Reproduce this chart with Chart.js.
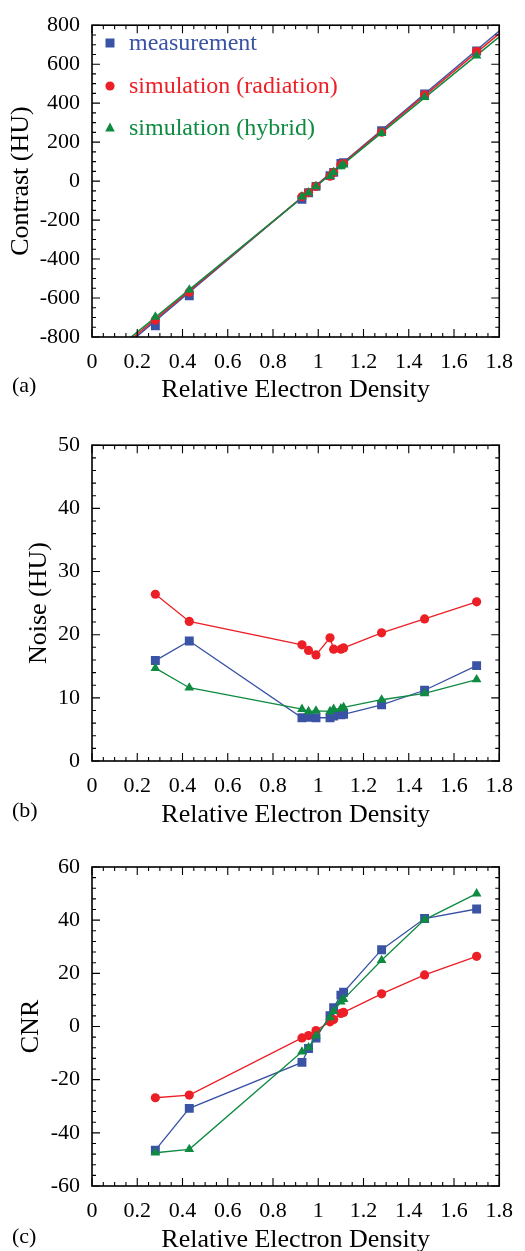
<!DOCTYPE html>
<html>
<head>
<meta charset="utf-8">
<script src="https://cdn.jsdelivr.net/npm/chart.js@4.4.1/dist/chart.umd.min.js"></script>
<style>
  html, body { margin:0; padding:0; background:#fff; overflow:hidden; }
  #wrap { position:relative; width:525px; height:1251px; overflow:hidden; }
  canvas { position:absolute; left:0; }
</style>
</head>
<body>
<div id="wrap">
  <canvas id="ca" width="525" height="440" style="top:0px"></canvas>
  <canvas id="cb" width="525" height="440" style="top:420px"></canvas>
  <canvas id="cc" width="525" height="440" style="top:830px"></canvas>
</div>
<script>
// ---------------- data ----------------
const density = [0.28, 0.43, 0.928, 0.957, 0.99, 1.052, 1.068, 1.10, 1.112, 1.28, 1.47, 1.70];

const contrastMeasurement = [-742, -588, -94, -60, -27, 28, 45, 90, 95, 258, 447, 668];
const contrastRadiation   = [-713, -570, -80, -59, -27, 25, 45, 84, 90, 251, 442, 666];
const contrastHybrid      = [-697, -558, -80, -59, -27, 25, 45, 75, 84, 246, 430, 643];

const fitX                = [0, 1.8];
const fitMeasurement      = [-991, 770];
const fitRadiation        = [-978, 757];
const fitHybrid           = [-964, 740];

const noiseMeasurement = [15.9, 19.0, 6.85, 6.9, 6.85, 6.85, 7.1, 7.3, 7.4, 8.9, 11.2, 15.1];
const noiseRadiation   = [26.4, 22.1, 18.4, 17.5, 16.8, 19.5, 17.7, 17.7, 17.9, 20.3, 22.5, 25.2];
const noiseHybrid      = [14.7, 11.6, 8.2, 7.85, 7.95, 7.85, 8.2, 8.3, 8.5, 9.7, 10.7, 12.9];

const cnrMeasurement = [-46.5, -30.8, -13.5, -8.3, -4.3, 4.1, 7.1, 11.8, 12.9, 28.9, 40.6, 44.2];
const cnrRadiation   = [-26.8, -25.8, -4.3, -3.4, -1.5, 1.75, 2.6, 4.9, 5.3, 12.3, 19.4, 26.4];
const cnrHybrid      = [-47.5, -46.2, -9.5, -7.9, -3.5, 3.4, 5.8, 9.3, 10.3, 24.9, 40.2, 50.0];

const seriesNames = ['measurement', 'simulation (radiation)', 'simulation (hybrid)'];
const panelLabels = ['(a)', '(b)', '(c)'];
const xTitle = 'Relative Electron Density';
const yTitles = ['Contrast (HU)', 'Noise (HU)', 'CNR'];
const xTickLabels = ['0', '0.2', '0.4', '0.6', '0.8', '1', '1.2', '1.4', '1.6', '1.8'];

// ---------------- style ----------------
const BLUE = '#3a53a4', RED = '#ed1f26', GREEN = '#0e8a41';
const FONT = "'Liberation Serif', 'Times New Roman', serif";
Chart.defaults.font.family = FONT;
Chart.defaults.color = '#000';

function pts(xs, ys) { return xs.map((x, i) => ({x: x, y: ys[i]})); }

// box with inward major/minor ticks on all four sides
const boxTicks = {
  id: 'boxTicks',
  afterDatasetsDraw(chart, args, o) {
    const ctx = chart.ctx, a = chart.chartArea;
    const xs = chart.scales.x, ys = chart.scales.y;
    ctx.save();
    ctx.strokeStyle = '#000';
    ctx.lineWidth = 1.1;
    ctx.beginPath();
    const doX = (step, len) => {
      const n = Math.round((xs.max - xs.min) / step);
      for (let i = 0; i <= n; i++) {
        const p = xs.getPixelForValue(xs.min + i * step);
        ctx.moveTo(p, a.bottom); ctx.lineTo(p, a.bottom - len);
        ctx.moveTo(p, a.top); ctx.lineTo(p, a.top + len);
      }
    };
    const doY = (step, len) => {
      const n = Math.round((ys.max - ys.min) / step);
      for (let i = 0; i <= n; i++) {
        const p = ys.getPixelForValue(ys.min + i * step);
        ctx.moveTo(a.left, p); ctx.lineTo(a.left + len, p);
        ctx.moveTo(a.right, p); ctx.lineTo(a.right - len, p);
      }
    };
    doX(o.xMajor, 8); doX(o.xMinor, 4);
    doY(o.yMajor, 8); doY(o.yMinor, 4);
    ctx.stroke();
    ctx.lineWidth = 1.6;
    ctx.strokeRect(a.left, a.top, a.right - a.left, a.bottom - a.top);
    ctx.restore();
  }
};

// panel letter and optional in-plot legend
const annot = {
  id: 'annot',
  afterDraw(chart, args, o) {
    const ctx = chart.ctx;
    ctx.save();
    ctx.fillStyle = '#000';
    ctx.font = '22px ' + FONT;
    ctx.textAlign = 'left';
    ctx.textBaseline = 'middle';
    ctx.fillText(o.label, 12, o.labelY);
    if (o.legend) {
      const rows = [
        {c: BLUE, s: 'rect', y: 43},
        {c: RED, s: 'circle', y: 86},
        {c: GREEN, s: 'triangle', y: 128}
      ];
      rows.forEach((r, i) => {
        ctx.fillStyle = r.c;
        const cx = 110, cy = r.y;
        ctx.beginPath();
        if (r.s === 'rect') ctx.rect(cx - 4.5, cy - 4.5, 9, 9);
        else if (r.s === 'circle') ctx.arc(cx, cy, 4.6, 0, Math.PI * 2);
        else { ctx.moveTo(cx, cy - 5.5); ctx.lineTo(cx + 4.8, cy + 3.5); ctx.lineTo(cx - 4.8, cy + 3.5); ctx.closePath(); }
        ctx.fill();
        ctx.font = '24px ' + FONT;
        ctx.textBaseline = 'alphabetic';
        ctx.fillText(seriesNames[i], 129, r.y + 7);
      });
    }
    ctx.restore();
  }
};

function markerSet(label, xs, ys, color, style, withLine, order) {
  return {
    label: label,
    data: pts(xs, ys),
    showLine: withLine,
    borderColor: color,
    backgroundColor: color,
    borderWidth: 1.3,
    pointStyle: style,
    pointRadius: style === 'rect' ? 6.3 : (style === 'circle' ? 4.6 : 5.6),
    pointBorderWidth: 0,
    pointBackgroundColor: color,
    order: order
  };
}
function fitSet(xs, ys, color, order) {
  return {
    data: pts(xs, ys), showLine: true, borderColor: color, borderWidth: 1.5,
    pointRadius: 0, clip: 0, order: order
  };
}

function makeChart(id, cfg) {
  return new Chart(document.getElementById(id), {
    type: 'scatter',
    data: { datasets: cfg.datasets },
    options: {
      responsive: false, animation: false, devicePixelRatio: 1, events: [],
      layout: { padding: { top: cfg.top, right: 18, left: 0, bottom: cfg.padBottom } },
      plugins: {
        legend: { display: false }, tooltip: { enabled: false },
        boxTicks: { xMajor: 0.2, xMinor: 0.05, yMajor: cfg.yStep, yMinor: cfg.yMinor },
        annot: { label: cfg.label, labelY: cfg.labelY, legend: cfg.legend }
      },
      scales: {
        x: {
          type: 'linear', min: 0, max: 1.8,
          grid: { display: false, drawTicks: false },
          border: { display: false },
          ticks: {
            stepSize: 0.2, padding: 12, font: { size: 22 }, color: '#000', maxRotation: 0,
            callback: (v) => xTickLabels[Math.round(v / 0.2)]
          },
          title: { display: true, text: xTitle, font: { size: 26 }, color: '#000', padding: { top: 0, bottom: cfg.xTitlePad } },
          afterFit: (s) => { s.height = cfg.xHeight; }
        },
        y: {
          type: 'linear', min: cfg.yMin, max: cfg.yMax,
          grid: { display: false, drawTicks: false },
          border: { display: false },
          ticks: { stepSize: cfg.yStep, padding: 12, font: { size: 22 }, color: '#000', callback: (v) => String(v) },
          title: { display: true, text: cfg.yTitle, font: { size: 26 }, color: '#000', padding: { top: cfg.yTitlePad, bottom: 0 } },
          afterFit: (s) => { s.width = 92; }
        }
      }
    },
    plugins: [boxTicks, annot]
  });
}

// (a) Contrast
makeChart('ca', {
  datasets: [
    fitSet(fitX, fitMeasurement, BLUE, 6),
    fitSet(fitX, fitRadiation, RED, 5),
    fitSet(fitX, fitHybrid, GREEN, 4),
    markerSet(seriesNames[0], density, contrastMeasurement, BLUE, 'rect', false, 3),
    markerSet(seriesNames[1], density, contrastRadiation, RED, 'circle', false, 2),
    markerSet(seriesNames[2], density, contrastHybrid, GREEN, 'triangle', false, 1)
  ],
  top: 18, xHeight: 103, padBottom: 0, xTitlePad: 34,
  yMin: -800, yMax: 800, yStep: 200, yMinor: 50, yTitle: yTitles[0], yTitlePad: 6,
  label: panelLabels[0], labelY: 386, legend: true
});

// (b) Noise
makeChart('cb', {
  datasets: [
    markerSet(seriesNames[0], density, noiseMeasurement, BLUE, 'rect', true, 3),
    markerSet(seriesNames[1], density, noiseRadiation, RED, 'circle', true, 2),
    markerSet(seriesNames[2], density, noiseHybrid, GREEN, 'triangle', true, 1)
  ],
  top: 23, xHeight: 99, padBottom: 0, xTitlePad: 29,
  yMin: 0, yMax: 50, yStep: 10, yMinor: 2, yTitle: yTitles[1], yTitlePad: 24,
  label: panelLabels[1], labelY: 391, legend: false
});

// (c) CNR
makeChart('cc', {
  datasets: [
    markerSet(seriesNames[0], density, cnrMeasurement, BLUE, 'rect', true, 3),
    markerSet(seriesNames[1], density, cnrRadiation, RED, 'circle', true, 2),
    markerSet(seriesNames[2], density, cnrHybrid, GREEN, 'triangle', true, 1)
  ],
  top: 37, xHeight: 84, padBottom: 0, xTitlePad: 14,
  yMin: -60, yMax: 60, yStep: 20, yMinor: 4, yTitle: yTitles[2], yTitlePad: 16,
  label: panelLabels[2], labelY: 407, legend: false
});
</script>
</body>
</html>
